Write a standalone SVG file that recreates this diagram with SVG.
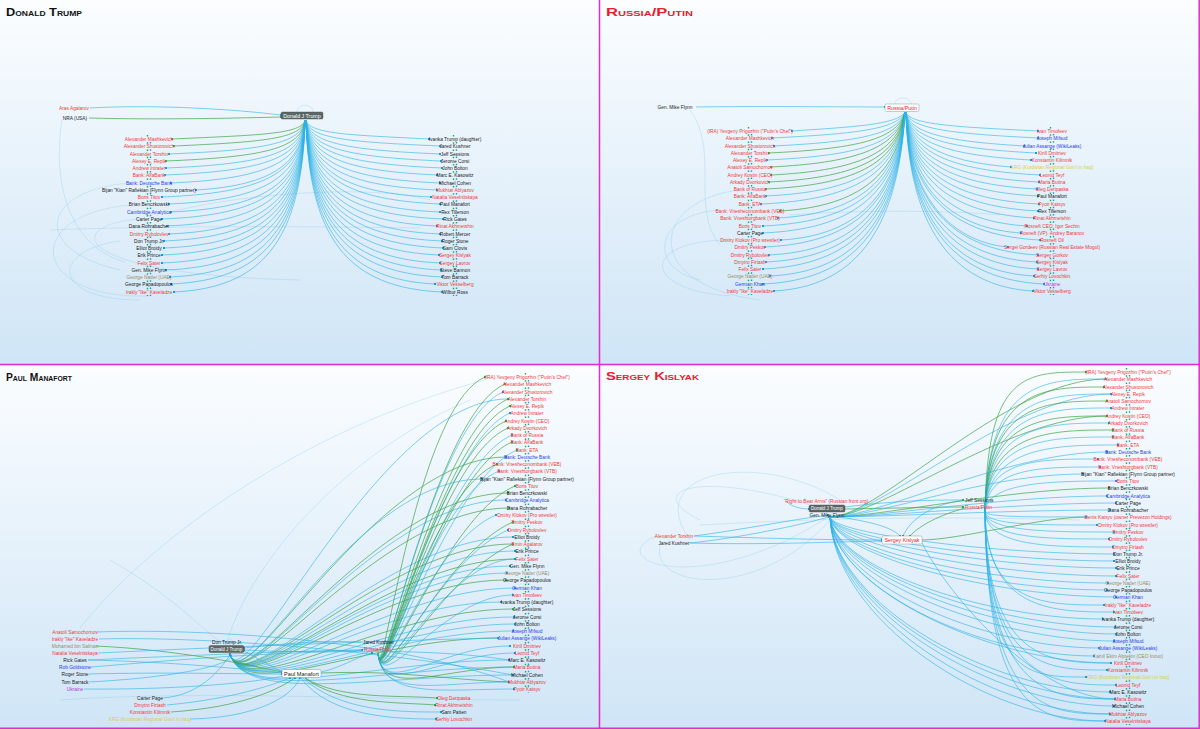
<svg xmlns="http://www.w3.org/2000/svg" width="1200" height="729" viewBox="0 0 1200 729">
<defs>
<linearGradient id="bg" x1="0" y1="0" x2="0" y2="1"><stop offset="0" stop-color="#fbfdff"/><stop offset="1" stop-color="#cfe5f6"/></linearGradient>
<marker id="dg" viewBox="0 0 2 2" refX="1" refY="1" markerWidth="2" markerHeight="2" markerUnits="userSpaceOnUse"><rect width="2" height="2" fill="#1fae4a"/></marker>
<marker id="db" viewBox="0 0 2 2" refX="1" refY="1" markerWidth="2" markerHeight="2" markerUnits="userSpaceOnUse"><rect width="2" height="2" fill="#1e96dc"/></marker>
</defs>
<style>
.t{font-family:"Liberation Sans",Arial,sans-serif;font-size:4.8px;text-anchor:middle;dominant-baseline:central}
.s{text-anchor:start}
.r{fill:#f03a3a}.k{fill:#222}.b{fill:#2c3be8}.o{fill:#9b8b68}.y{fill:#d6d23e}.p{fill:#b43bd6}
.e,.g,.f{fill:none}
.e{stroke:#2db3e6;stroke-width:.75;stroke-opacity:.8;marker-end:url(#db)}
.g{stroke:#3aa040;stroke-width:.8;stroke-opacity:.85;marker-end:url(#dg)}
.f{stroke:#7fc6e6;stroke-width:.6;stroke-opacity:.5}
.ttl{font-family:"Liberation Sans",Arial,sans-serif;font-weight:bold;font-variant:small-caps;font-size:10.5px}
.hb{fill:#5b6767;stroke:#3d4848;stroke-width:.4}
.hw{fill:#fff;stroke:#8a9a9a;stroke-width:.5}
.ht{font-family:"Liberation Sans",Arial,sans-serif;text-anchor:middle;dominant-baseline:central}
.cg{stroke:#1fae4a;stroke-width:1.4;stroke-dasharray:1.5 5.77}
.cb{stroke:#1e96dc;stroke-width:1.4;stroke-dasharray:1.5 5.77}
.frame{stroke:#e02cc8;stroke-width:1.5;fill:none}
</style>
<g id="backgrounds">
<rect x="0" y="0" width="600" height="365" fill="url(#bg)"/>
<rect x="600" y="0" width="600" height="365" fill="url(#bg)"/>
<rect x="0" y="365" width="600" height="364" fill="url(#bg)"/>
<rect x="600" y="365" width="600" height="364" fill="url(#bg)"/>
</g>
<g id="frames">
<line class="frame" x1="599.5" y1="0" x2="599.5" y2="729"/>
<line class="frame" x1="0" y1="364.5" x2="1200" y2="364.5"/>
<line class="frame" x1="1199.2" y1="0" x2="1199.2" y2="729"/>
<line class="frame" x1="0" y1="728.2" x2="1200" y2="728.2"/>
</g>
<g id="titles">
<text class="ttl" x="6" y="16" fill="#111" textLength="76" lengthAdjust="spacingAndGlyphs">Donald Trump</text>
<text class="ttl" x="606" y="16" fill="#e8202c" textLength="87" lengthAdjust="spacingAndGlyphs">Russia/Putin</text>
<text class="ttl" x="6" y="381" fill="#111" textLength="66" lengthAdjust="spacingAndGlyphs">Paul Manafort</text>
<text class="ttl" x="606" y="380" fill="#e8202c" textLength="93" lengthAdjust="spacingAndGlyphs">Sergey Kislyak</text>
</g>
<g id="connectors">
<!-- panel 1 -->
<path class="f" d="M130,205C20,215 30,300 150,296"/>
<path class="f" d="M120,241C50,250 50,300 140,300"/>
<path class="f" d="M62,120C50,200 80,250 125,262"/>
<path class="f" d="M50,230C150,226 300,226 420,228"/>
<path class="f" d="M170,212C260,190 380,186 430,200"/>
<path class="f" d="M130,183C40,190 30,250 120,270"/>
<path class="f" d="M140,219C60,225 70,275 300,280"/>
<path class="f" d="M297,112C297,103 313,103 313,112"/>
<path class="e" d="M90,108C160,104 240,110 281,115"/>
<path class="g" d="M89,118C160,120 240,118 281,117"/>
<path class="g" d="M305,120C302,134 262,135 172,139"/>
<path class="g" d="M305,120C302,139 262,142 174,146"/>
<path class="e" d="M305,120C302,144 262,150 169,154"/>
<path class="g" d="M305,120C302,149 262,157 166,161"/>
<path class="e" d="M305,120C302,154 262,164 166,168"/>
<path class="e" d="M305,120C302,159 262,171 165,175"/>
<path class="e" d="M305,120C302,164 262,179 171,183"/>
<path class="e" d="M305,120C302,169 262,186 196,190"/>
<path class="e" d="M305,120C302,174 262,193 162,197"/>
<path class="e" d="M305,120C302,179 262,200 169,204"/>
<path class="e" d="M305,120C302,185 262,208 171,212"/>
<path class="e" d="M305,120C302,190 262,215 162,219"/>
<path class="e" d="M305,120C302,195 262,222 167,226"/>
<path class="e" d="M305,120C302,200 262,230 169,234"/>
<path class="e" d="M305,120C302,205 262,237 164,241"/>
<path class="e" d="M305,120C302,210 262,244 164,248"/>
<path class="e" d="M305,120C302,215 262,251 162,255"/>
<path class="e" d="M305,120C302,220 262,259 162,263"/>
<path class="e" d="M305,120C302,225 262,266 166,270"/>
<path class="e" d="M305,120C302,230 262,273 170,277"/>
<path class="e" d="M305,120C302,235 262,280 171,284"/>
<path class="e" d="M305,120C302,241 262,288 174,292"/>
<path class="e" d="M306,120C309,134 350,135 429,139"/>
<path class="e" d="M306,120C309,139 350,142 440,146"/>
<path class="e" d="M306,120C309,144 350,150 440,154"/>
<path class="e" d="M306,120C309,149 350,157 441,161"/>
<path class="e" d="M306,120C309,154 350,164 442,168"/>
<path class="e" d="M306,120C309,159 350,171 437,175"/>
<path class="e" d="M306,120C309,164 350,179 440,183"/>
<path class="e" d="M306,120C309,169 350,186 437,190"/>
<path class="e" d="M306,120C309,174 350,193 431,197"/>
<path class="e" d="M306,120C309,179 350,200 440,204"/>
<path class="e" d="M306,120C309,185 350,208 440,212"/>
<path class="e" d="M306,120C309,190 350,215 443,219"/>
<path class="e" d="M306,120C309,195 350,222 437,226"/>
<path class="e" d="M306,120C309,200 350,230 440,234"/>
<path class="e" d="M306,120C309,205 350,237 442,241"/>
<path class="e" d="M306,120C309,210 350,244 443,248"/>
<path class="e" d="M306,120C309,215 350,251 439,255"/>
<path class="e" d="M306,120C309,220 350,259 440,263"/>
<path class="e" d="M306,120C309,225 350,266 441,270"/>
<path class="e" d="M306,120C309,230 350,273 442,277"/>
<path class="e" d="M306,120C309,235 350,280 435,284"/>
<path class="e" d="M306,120C309,241 350,288 442,292"/>
<!-- panel 2 -->
<path class="f" d="M730,240C640,240 640,290 730,296"/>
<path class="f" d="M720,210C650,215 650,270 700,280"/>
<path class="f" d="M790,215C850,210 950,210 1000,215"/>
<path class="f" d="M690,110C720,150 690,210 720,245"/>
<path class="f" d="M740,190C650,200 640,285 760,300"/>
<path class="f" d="M895,104C895,96 911,96 911,104"/>
<path class="e" d="M696,107C760,106 840,107 885,107"/>
<path class="e" d="M905,112C898,125 850,127 792,131"/>
<path class="e" d="M905,112C898,130 850,134 772,138"/>
<path class="e" d="M905,112C898,136 850,142 774,146"/>
<path class="g" d="M905,112C898,141 850,149 769,153"/>
<path class="e" d="M905,112C898,146 850,156 767,160"/>
<path class="g" d="M905,112C898,150 850,163 771,167"/>
<path class="g" d="M905,112C898,156 850,171 771,175"/>
<path class="g" d="M905,112C898,161 850,178 769,182"/>
<path class="g" d="M905,112C898,166 850,185 766,189"/>
<path class="e" d="M905,112C898,171 850,192 766,196"/>
<path class="e" d="M905,112C898,176 850,200 761,204"/>
<path class="g" d="M905,112C898,181 850,207 780,211"/>
<path class="e" d="M905,112C898,186 850,214 778,218"/>
<path class="e" d="M905,112C898,192 850,222 763,226"/>
<path class="e" d="M905,112C898,197 850,229 763,233"/>
<path class="e" d="M905,112C898,202 850,236 781,240"/>
<path class="e" d="M905,112C898,207 850,243 765,247"/>
<path class="e" d="M905,112C898,212 850,251 769,255"/>
<path class="e" d="M905,112C898,217 850,258 766,262"/>
<path class="e" d="M905,112C898,222 850,265 763,269"/>
<path class="e" d="M905,112C898,227 850,272 770,276"/>
<path class="e" d="M905,112C898,232 850,280 763,284"/>
<path class="e" d="M905,112C898,237 850,287 774,291"/>
<path class="e" d="M906,112C909,125 960,127 1038,131"/>
<path class="e" d="M906,112C909,130 960,134 1038,138"/>
<path class="e" d="M906,112C909,136 960,142 1024,146"/>
<path class="e" d="M906,112C909,141 960,149 1036,153"/>
<path class="e" d="M906,112C909,146 960,156 1031,160"/>
<path class="e" d="M906,112C909,150 960,163 1011,167"/>
<path class="e" d="M906,112C909,156 960,171 1040,175"/>
<path class="e" d="M906,112C909,161 960,178 1039,182"/>
<path class="e" d="M906,112C909,166 960,185 1037,189"/>
<path class="e" d="M906,112C909,171 960,192 1038,196"/>
<path class="e" d="M906,112C909,176 960,200 1039,204"/>
<path class="e" d="M906,112C909,181 960,207 1038,211"/>
<path class="e" d="M906,112C909,186 960,214 1034,218"/>
<path class="e" d="M906,112C909,192 960,222 1027,226"/>
<path class="e" d="M906,112C909,197 960,229 1021,233"/>
<path class="e" d="M906,112C909,202 960,236 1040,240"/>
<path class="e" d="M906,112C909,207 960,243 1008,247"/>
<path class="e" d="M906,112C909,212 960,251 1038,255"/>
<path class="e" d="M906,112C909,217 960,258 1037,262"/>
<path class="e" d="M906,112C909,222 960,265 1038,269"/>
<path class="e" d="M906,112C909,227 960,272 1034,276"/>
<path class="e" d="M906,112C909,232 960,280 1044,284"/>
<path class="e" d="M906,112C909,237 960,287 1033,291"/>
<!-- panel 3 -->
<path class="f" d="M485,380C300,430 150,540 80,628"/>
<path class="f" d="M470,400C350,450 250,560 226,645"/>
<path class="f" d="M60,700C200,690 380,700 520,700"/>
<path class="f" d="M110,560C180,600 200,630 226,645"/>
<path class="e" d="M230,654C245,705 378,399 508,399"/>
<path class="g" d="M230,654C245,705 376,457 506,457"/>
<path class="e" d="M230,654C245,705 352,479 482,479"/>
<path class="g" d="M230,654C245,705 378,493 508,493"/>
<path class="e" d="M230,654C245,705 376,500 506,500"/>
<path class="g" d="M230,654C245,705 379,508 509,508"/>
<path class="e" d="M230,654C245,705 383,537 513,537"/>
<path class="g" d="M230,654C245,705 383,544 513,544"/>
<path class="e" d="M230,654C245,705 385,551 515,551"/>
<path class="g" d="M230,654C245,705 385,559 515,559"/>
<path class="e" d="M230,654C245,705 380,566 510,566"/>
<path class="e" d="M230,654C245,705 377,573 507,573"/>
<path class="g" d="M230,654C245,705 376,580 506,580"/>
<path class="e" d="M230,654C245,705 385,588 515,588"/>
<path class="e" d="M230,654C245,705 371,602 501,602"/>
<path class="g" d="M230,654C245,705 383,609 513,609"/>
<path class="e" d="M230,654C245,705 384,617 514,617"/>
<path class="e" d="M230,654C245,705 385,624 515,624"/>
<path class="e" d="M230,654C245,705 383,631 513,631"/>
<path class="g" d="M230,654C245,705 368,638 498,638"/>
<path class="e" d="M230,654C245,705 379,660 509,660"/>
<path class="e" d="M230,654C245,705 384,667 514,667"/>
<path class="e" d="M230,654C245,705 383,675 513,675"/>
<path class="g" d="M378,653C382,700 415,407 485,377"/>
<path class="g" d="M378,653C382,700 435,414 505,384"/>
<path class="e" d="M378,653C382,700 433,422 503,392"/>
<path class="g" d="M378,653C382,700 438,429 508,399"/>
<path class="g" d="M378,653C382,700 440,436 510,406"/>
<path class="e" d="M378,653C382,700 440,443 510,413"/>
<path class="g" d="M378,653C382,700 436,451 506,421"/>
<path class="g" d="M378,653C382,700 438,458 508,428"/>
<path class="e" d="M378,653C382,700 442,465 512,435"/>
<path class="g" d="M378,653C382,700 442,472 512,442"/>
<path class="e" d="M378,653C382,700 447,480 517,450"/>
<path class="g" d="M378,653C382,700 427,494 497,464"/>
<path class="e" d="M378,653C382,700 429,501 499,471"/>
<path class="g" d="M378,653C382,700 445,516 515,486"/>
<path class="e" d="M378,653C382,700 426,545 496,515"/>
<path class="g" d="M378,653C382,700 443,552 513,522"/>
<path class="e" d="M378,653C382,700 438,560 508,530"/>
<path class="g" d="M378,653C382,700 443,574 513,544"/>
<path class="e" d="M378,653C382,700 445,559 515,559"/>
<path class="e" d="M378,653C382,700 443,595 513,595"/>
<path class="e" d="M378,653C382,700 440,646 510,646"/>
<path class="e" d="M378,653C382,700 445,653 515,653"/>
<path class="g" d="M378,653C382,700 444,667 514,667"/>
<path class="e" d="M378,653C382,700 439,682 509,682"/>
<path class="e" d="M378,653C382,700 444,689 514,689"/>
<path class="e" d="M97,632C200,628 400,640 509,682"/>
<path class="e" d="M99,639C200,636 380,650 513,675"/>
<path class="g" d="M96,646C180,650 250,665 282,672"/>
<path class="e" d="M98,653C200,648 400,640 498,638"/>
<path class="e" d="M88,660C180,662 250,670 282,673"/>
<path class="e" d="M88,660C200,655 320,650 362,650"/>
<path class="e" d="M91,667C180,660 380,640 509,660"/>
<path class="e" d="M89,674C160,672 240,674 282,674"/>
<path class="e" d="M89,682C200,676 240,660 230,654"/>
<path class="e" d="M84,689C180,690 260,682 283,676"/>
<path class="e" d="M361,642C320,640 270,645 244,648"/>
<path class="e" d="M362,650C320,652 280,652 244,650"/>
<path class="e" d="M244,651C260,660 275,668 282,672"/>
<path class="e" d="M321,672C340,668 355,658 372,653"/>
<path class="g" d="M321,673C400,670 450,680 509,682"/>
<path class="e" d="M163,698C200,695 220,670 230,655"/>
<path class="e" d="M167,705C220,700 260,690 290,678"/>
<path class="g" d="M171,712C230,708 270,695 295,678"/>
<path class="e" d="M190,719C250,718 290,700 300,678"/>
<path class="g" d="M305,678C340,700 400,695 437,698"/>
<path class="g" d="M305,678C340,705 400,702 435,705"/>
<path class="e" d="M303,678C340,712 400,712 441,712"/>
<path class="e" d="M301,678C330,718 400,719 436,719"/>
<path class="f" d="M227,644C227,637 233,637 233,644"/>
<!-- panel 4 -->
<path class="f" d="M656,536C600,560 700,600 828,517"/>
<path class="f" d="M700,520C640,490 700,470 810,505"/>
<path class="f" d="M660,545C650,590 760,600 830,520"/>
<path class="f" d="M700,525C800,520 900,515 1080,520"/>
<path class="f" d="M690,540C640,470 760,450 840,500"/>
<path class="e" d="M786,501C790,506 800,509 809,509"/>
<path class="e" d="M694,536C740,530 790,520 828,515"/>
<path class="e" d="M694,536C760,538 820,540 882,540"/>
<path class="e" d="M690,543C760,545 830,542 882,541"/>
<path class="e" d="M690,543C740,538 800,525 829,517"/>
<path class="e" d="M832,516C860,520 890,525 900,536"/>
<path class="e" d="M963,500C930,505 910,520 903,536"/>
<path class="g" d="M965,508C940,515 920,525 910,536"/>
<path class="e" d="M845,507C900,500 940,500 963,500"/>
<path class="g" d="M845,509C900,508 940,507 963,507"/>
<path class="g" d="M921,540C960,540 1040,517 1086,517"/>
<path class="e" d="M921,541C950,600 1040,699 1115,699"/>
<path class="g" d="M830,517C880,517 1006,379 1106,379"/>
<path class="e" d="M830,517C880,517 1011,394 1111,394"/>
<path class="g" d="M830,517C880,517 1007,416 1107,416"/>
<path class="e" d="M830,517C880,517 1007,452 1107,452"/>
<path class="e" d="M830,517C880,517 983,474 1083,474"/>
<path class="g" d="M830,517C880,517 1009,488 1109,488"/>
<path class="e" d="M830,517C880,517 1007,496 1107,496"/>
<path class="e" d="M830,517C880,517 1016,503 1116,503"/>
<path class="e" d="M830,517C880,517 1010,510 1110,510"/>
<path class="e" d="M830,517C834,534 994,554 1114,554"/>
<path class="e" d="M830,517C834,538 994,561 1114,561"/>
<path class="e" d="M830,517C834,541 996,568 1116,568"/>
<path class="e" d="M830,517C834,545 996,576 1116,576"/>
<path class="e" d="M830,517C834,549 988,583 1108,583"/>
<path class="e" d="M830,517C834,552 987,590 1107,590"/>
<path class="e" d="M830,517C834,556 996,597 1116,597"/>
<path class="e" d="M830,517C834,567 983,619 1103,619"/>
<path class="e" d="M830,517C834,571 995,627 1115,627"/>
<path class="e" d="M830,517C834,574 996,634 1116,634"/>
<path class="e" d="M830,517C834,578 994,641 1114,641"/>
<path class="e" d="M830,517C834,581 979,648 1099,648"/>
<path class="e" d="M830,517C834,585 974,656 1094,656"/>
<path class="e" d="M830,517C834,589 991,663 1111,663"/>
<path class="e" d="M830,517C834,603 990,692 1110,692"/>
<path class="e" d="M830,517C834,607 995,699 1115,699"/>
<path class="e" d="M830,517C834,610 994,706 1114,706"/>
<path class="e" d="M830,517C834,614 990,714 1110,714"/>
<path class="e" d="M830,517C834,618 985,721 1105,721"/>
<path class="g" d="M985,512C987,372 1026,372 1086,372"/>
<path class="e" d="M985,512C987,379 1046,379 1106,379"/>
<path class="g" d="M985,512C987,387 1044,387 1104,387"/>
<path class="e" d="M985,512C987,394 1051,394 1111,394"/>
<path class="g" d="M985,512C987,401 1047,401 1107,401"/>
<path class="e" d="M985,512C987,408 1051,408 1111,408"/>
<path class="g" d="M985,512C987,416 1047,416 1107,416"/>
<path class="e" d="M985,512C987,423 1049,423 1109,423"/>
<path class="g" d="M985,512C987,430 1053,430 1113,430"/>
<path class="e" d="M985,512C987,437 1053,437 1113,437"/>
<path class="e" d="M985,512C987,445 1058,445 1118,445"/>
<path class="e" d="M985,512C987,459 1038,459 1098,459"/>
<path class="e" d="M985,512C987,467 1040,467 1100,467"/>
<path class="e" d="M985,512C987,481 1056,481 1116,481"/>
<path class="e" d="M985,512C987,517 1026,517 1086,517"/>
<path class="e" d="M985,512C987,525 1037,525 1097,525"/>
<path class="e" d="M985,512C987,532 1054,532 1114,532"/>
<path class="e" d="M985,512C987,539 1049,539 1109,539"/>
<path class="e" d="M985,512C987,547 1053,547 1113,547"/>
<path class="e" d="M985,512C987,605 1044,605 1104,605"/>
<path class="e" d="M985,512C987,612 1054,612 1114,612"/>
<path class="e" d="M985,512C987,663 1051,663 1111,663"/>
<path class="e" d="M985,512C987,670 1047,670 1107,670"/>
<path class="e" d="M985,512C987,677 1026,677 1086,677"/>
<path class="e" d="M985,512C987,685 1056,685 1116,685"/>
<path class="e" d="M985,512C987,699 1055,699 1115,699"/>
<path class="e" d="M985,512C987,714 1050,714 1110,714"/>
<path class="e" d="M985,512C987,721 1045,721 1105,721"/>
</g>
<g id="list-dots">
<line class="cg" x1="147.5" y1="135" x2="147.5" y2="296"/><line class="cb" x1="150.5" y1="142" x2="150.5" y2="296"/>
<line class="cg" x1="453.5" y1="135" x2="453.5" y2="296"/><line class="cb" x1="456.5" y1="142" x2="456.5" y2="296"/>
<line class="cg" x1="748.5" y1="127" x2="748.5" y2="295"/><line class="cb" x1="751.5" y1="134" x2="751.5" y2="295"/>
<line class="cg" x1="1050.5" y1="127" x2="1050.5" y2="295"/><line class="cb" x1="1053.5" y1="134" x2="1053.5" y2="295"/>
<line class="cg" x1="525.5" y1="373" x2="525.5" y2="693"/><line class="cb" x1="528.5" y1="380" x2="528.5" y2="693"/>
<line class="cg" x1="1126.5" y1="368" x2="1126.5" y2="725"/><line class="cb" x1="1129.5" y1="375" x2="1129.5" y2="725"/>
</g>
<g id="p1-trump"><rect class="hb" x="281" y="112" width="42" height="7" rx="1.5"/><text class="ht" x="302" y="115.6" fill="#fff" font-size="5.3">Donald J Trump</text></g>
<g id="p1-aras"><text class="t r" x="74" y="108">Aras Agalarov</text></g>
<g id="p1-nra"><text class="t k" x="75" y="118">NRA (USA)</text></g>
<g id="p1-l01"><text class="t r" x="149" y="139">Alexander Mashkevich</text></g>
<g id="p1-l02"><text class="t r" x="149" y="146">Alexander Shustorovich</text></g>
<g id="p1-l03"><text class="t r" x="149" y="154">Alexander Torshin</text></g>
<g id="p1-l04"><text class="t r" x="149" y="161">Alexey E. Repik</text></g>
<g id="p1-l05"><text class="t r" x="149" y="168">Andrew Intrater</text></g>
<g id="p1-l06"><text class="t r" x="149" y="175">Bank: AlfaBank</text></g>
<g id="p1-l07"><text class="t b" x="149" y="183">Bank: Deutsche Bank</text></g>
<g id="p1-l08"><text class="t k" x="149" y="190">Bijan "Kian" Rafiekian (Flynn Group partner)</text></g>
<g id="p1-l09"><text class="t r" x="149" y="197">Boris Titov</text></g>
<g id="p1-l10"><text class="t k" x="149" y="204">Brian Benczkowski</text></g>
<g id="p1-l11"><text class="t b" x="149" y="212">Cambridge Analytica</text></g>
<g id="p1-l12"><text class="t k" x="149" y="219">Carter Page</text></g>
<g id="p1-l13"><text class="t k" x="149" y="226">Dana Rohrabacher</text></g>
<g id="p1-l14"><text class="t r" x="149" y="234">Dmitry Rybolovlev</text></g>
<g id="p1-l15"><text class="t k" x="149" y="241">Don Trump Jr.</text></g>
<g id="p1-l16"><text class="t k" x="149" y="248">Elliot Broidy</text></g>
<g id="p1-l17"><text class="t k" x="149" y="255">Erik Prince</text></g>
<g id="p1-l18"><text class="t r" x="149" y="263">Felix Sater</text></g>
<g id="p1-l19"><text class="t k" x="149" y="270">Gen. Mike Flynn</text></g>
<g id="p1-l20"><text class="t o" x="149" y="277">George Nader (UAE)</text></g>
<g id="p1-l21"><text class="t k" x="149" y="284">George Papadopoulos</text></g>
<g id="p1-l22"><text class="t r" x="149" y="292">Irakly "Ike" Kaveladze</text></g>
<g id="p1-r01"><text class="t k" x="455" y="139">Ivanka Trump (daughter)</text></g>
<g id="p1-r02"><text class="t k" x="455" y="146">Jared Kushner</text></g>
<g id="p1-r03"><text class="t k" x="455" y="154">Jeff Sessions</text></g>
<g id="p1-r04"><text class="t k" x="455" y="161">Jerome Corsi</text></g>
<g id="p1-r05"><text class="t k" x="455" y="168">John Bolton</text></g>
<g id="p1-r06"><text class="t k" x="455" y="175">Marc E. Kasowitz</text></g>
<g id="p1-r07"><text class="t k" x="455" y="183">Michael Cohen</text></g>
<g id="p1-r08"><text class="t r" x="455" y="190">Mukhtar Ablyazov</text></g>
<g id="p1-r09"><text class="t r" x="455" y="197">Natalia Veselnitskaya</text></g>
<g id="p1-r10"><text class="t k" x="455" y="204">Paul Manafort</text></g>
<g id="p1-r11"><text class="t k" x="455" y="212">Rex Tillerson</text></g>
<g id="p1-r12"><text class="t k" x="455" y="219">Rick Gates</text></g>
<g id="p1-r13"><text class="t r" x="455" y="226">Rinat Akhmetshin</text></g>
<g id="p1-r14"><text class="t k" x="455" y="234">Robert Mercer</text></g>
<g id="p1-r15"><text class="t k" x="455" y="241">Roger Stone</text></g>
<g id="p1-r16"><text class="t k" x="455" y="248">Sam Clovis</text></g>
<g id="p1-r17"><text class="t r" x="455" y="255">Sergey Kislyak</text></g>
<g id="p1-r18"><text class="t r" x="455" y="263">Sergey Lavrov</text></g>
<g id="p1-r19"><text class="t k" x="455" y="270">Steve Bannon</text></g>
<g id="p1-r20"><text class="t k" x="455" y="277">Tom Barrack</text></g>
<g id="p1-r21"><text class="t r" x="455" y="284">Viktor Vekselberg</text></g>
<g id="p1-r22"><text class="t k" x="455" y="292">Wilbur Ross</text></g>
<g id="p2-russia"><rect class="hw" x="885" y="104" width="34" height="7.5" rx="1.5"/><text class="ht" x="902" y="107.9" fill="#e8202c" font-size="5.3">Russia/Putin</text></g>
<g id="p2-flynn"><text class="t k" x="675" y="107">Gen. Mike Flynn</text></g>
<g id="p2-l01"><text class="t r" x="750" y="131">(IRA) Yevgeny Prigozhin ("Putin's Chef")</text></g>
<g id="p2-l02"><text class="t r" x="750" y="138">Alexander Mashkevich</text></g>
<g id="p2-l03"><text class="t r" x="750" y="146">Alexander Shustorovich</text></g>
<g id="p2-l04"><text class="t r" x="750" y="153">Alexander Torshin</text></g>
<g id="p2-l05"><text class="t r" x="750" y="160">Alexey E. Repik</text></g>
<g id="p2-l06"><text class="t r" x="750" y="167">Anatoli Samochornov</text></g>
<g id="p2-l07"><text class="t r" x="750" y="175">Andrey Kostin (CEO)</text></g>
<g id="p2-l08"><text class="t r" x="750" y="182">Arkady Dvorkovich</text></g>
<g id="p2-l09"><text class="t r" x="750" y="189">Bank of Russia</text></g>
<g id="p2-l10"><text class="t r" x="750" y="196">Bank: AlfaBank</text></g>
<g id="p2-l11"><text class="t r" x="750" y="204">Bank: ETA</text></g>
<g id="p2-l12"><text class="t r" x="750" y="211">Bank: Vnesheconombank (VEB)</text></g>
<g id="p2-l13"><text class="t r" x="750" y="218">Bank: Vneshtorgbank (VTB)</text></g>
<g id="p2-l14"><text class="t r" x="750" y="226">Boris Titov</text></g>
<g id="p2-l15"><text class="t k" x="750" y="233">Carter Page</text></g>
<g id="p2-l16"><text class="t r" x="750" y="240">Dmitry Klokov (Pro wrestler)</text></g>
<g id="p2-l17"><text class="t r" x="750" y="247">Dmitry Peskov</text></g>
<g id="p2-l18"><text class="t r" x="750" y="255">Dmitry Rybolovlev</text></g>
<g id="p2-l19"><text class="t r" x="750" y="262">Dmytro Firtash</text></g>
<g id="p2-l20"><text class="t r" x="750" y="269">Felix Sater</text></g>
<g id="p2-l21"><text class="t o" x="750" y="276">George Nader (UAE)</text></g>
<g id="p2-l22"><text class="t b" x="750" y="284">German Khan</text></g>
<g id="p2-l23"><text class="t r" x="750" y="291">Irakly "Ike" Kaveladze</text></g>
<g id="p2-r01"><text class="t r" x="1052" y="131">Ivan Timofeev</text></g>
<g id="p2-r02"><text class="t b" x="1052" y="138">Joseph Mifsud</text></g>
<g id="p2-r03"><text class="t b" x="1052" y="146">Julian Assange (WikiLeaks)</text></g>
<g id="p2-r04"><text class="t r" x="1052" y="153">Kirill Dmitriev</text></g>
<g id="p2-r05"><text class="t r" x="1052" y="160">Konstantin Kilimnik</text></g>
<g id="p2-r06"><text class="t y" x="1052" y="167">KRG (Kurdistan Regional Gov't in Iraq)</text></g>
<g id="p2-r07"><text class="t r" x="1052" y="175">Leonid Teyf</text></g>
<g id="p2-r08"><text class="t r" x="1052" y="182">Maria Butina</text></g>
<g id="p2-r09"><text class="t r" x="1052" y="189">Oleg Deripaska</text></g>
<g id="p2-r10"><text class="t k" x="1052" y="196">Paul Manafort</text></g>
<g id="p2-r11"><text class="t r" x="1052" y="204">Pyotr Katsyv</text></g>
<g id="p2-r12"><text class="t k" x="1052" y="211">Rex Tillerson</text></g>
<g id="p2-r13"><text class="t r" x="1052" y="218">Rinat Akhmetshin</text></g>
<g id="p2-r14"><text class="t r" x="1052" y="226">Rosneft CEO: Igor Sechin</text></g>
<g id="p2-r15"><text class="t r" x="1052" y="233">Rosneft (VP): Andrey Baranov</text></g>
<g id="p2-r16"><text class="t r" x="1052" y="240">Rosneft Oil</text></g>
<g id="p2-r17"><text class="t r" x="1052" y="247">Sergei Gordeev (Russian Real Estate Mogul)</text></g>
<g id="p2-r18"><text class="t r" x="1052" y="255">Sergey Gorkov</text></g>
<g id="p2-r19"><text class="t r" x="1052" y="262">Sergey Kislyak</text></g>
<g id="p2-r20"><text class="t r" x="1052" y="269">Sergey Lavrov</text></g>
<g id="p2-r21"><text class="t r" x="1052" y="276">Serhiy Lovochkin</text></g>
<g id="p2-r22"><text class="t p" x="1052" y="284">Ukraine</text></g>
<g id="p2-r23"><text class="t r" x="1052" y="291">Viktor Vekselberg</text></g>
<g id="p3-trump"><rect class="hb" x="209" y="645.5" width="35" height="7" rx="1.5"/><text class="ht" x="226.5" y="649.1" fill="#fff" font-size="4.5">Donald J Trump</text></g>
<g id="p3-manafort"><rect class="hw" x="282" y="669.5" width="39" height="8" rx="1.5"/><text class="ht" x="301.5" y="673.6" fill="#222" font-size="5.6">Paul Manafort</text></g>
<g id="p3-jr"><text class="t k" x="227" y="642">Don Trump Jr.</text></g>
<g id="p3-kushner"><text class="t k s" x="363" y="642">Jared Kushner</text></g>
<g id="p3-russia"><text class="t r s" x="364" y="649">Russia/Putin</text></g>
<g id="p3-l01"><text class="t r" x="75" y="632">Anatoli Samochornov</text></g>
<g id="p3-l02"><text class="t r" x="75" y="639">Irakly "Ike" Kaveladze</text></g>
<g id="p3-l03"><text class="t o" x="75" y="646">Mohamed bin Salman</text></g>
<g id="p3-l04"><text class="t r" x="75" y="653">Natalia Veselnitskaya</text></g>
<g id="p3-l05"><text class="t k" x="75" y="660">Rick Gates</text></g>
<g id="p3-l06"><text class="t b" x="75" y="667">Rob Goldstone</text></g>
<g id="p3-l07"><text class="t k" x="75" y="674">Roger Stone</text></g>
<g id="p3-l08"><text class="t k" x="75" y="682">Tom Barrack</text></g>
<g id="p3-l09"><text class="t p" x="75" y="689">Ukraine</text></g>
<g id="p3-m01"><text class="t k" x="150" y="698">Carter Page</text></g>
<g id="p3-m02"><text class="t r" x="150" y="705">Dmytro Firtash</text></g>
<g id="p3-m03"><text class="t r" x="150" y="712">Konstantin Kilimnik</text></g>
<g id="p3-m04"><text class="t y" x="150" y="719">KRG (Kurdistan Regional Gov't in Iraq)</text></g>
<g id="p3-b01"><text class="t r" x="454" y="698">Oleg Deripaska</text></g>
<g id="p3-b02"><text class="t r" x="454" y="705">Rinat Akhmetshin</text></g>
<g id="p3-b03"><text class="t k" x="454" y="712">Sam Patten</text></g>
<g id="p3-b04"><text class="t r" x="454" y="719">Serhiy Lovochkin</text></g>
<g id="p3-r01"><text class="t r" x="527" y="377">(IRA) Yevgeny Prigozhin ("Putin's Chef")</text></g>
<g id="p3-r02"><text class="t r" x="527" y="384">Alexander Mashkevich</text></g>
<g id="p3-r03"><text class="t r" x="527" y="392">Alexander Shustorovich</text></g>
<g id="p3-r04"><text class="t r" x="527" y="399">Alexander Torshin</text></g>
<g id="p3-r05"><text class="t r" x="527" y="406">Alexey E. Repik</text></g>
<g id="p3-r06"><text class="t r" x="527" y="413">Andrew Intrater</text></g>
<g id="p3-r07"><text class="t r" x="527" y="421">Andrey Kostin (CEO)</text></g>
<g id="p3-r08"><text class="t r" x="527" y="428">Arkady Dvorkovich</text></g>
<g id="p3-r09"><text class="t r" x="527" y="435">Bank of Russia</text></g>
<g id="p3-r10"><text class="t r" x="527" y="442">Bank: AlfaBank</text></g>
<g id="p3-r11"><text class="t r" x="527" y="450">Bank: ETA</text></g>
<g id="p3-r12"><text class="t b" x="527" y="457">Bank: Deutsche Bank</text></g>
<g id="p3-r13"><text class="t r" x="527" y="464">Bank: Vnesheconombank (VEB)</text></g>
<g id="p3-r14"><text class="t r" x="527" y="471">Bank: Vneshtorgbank (VTB)</text></g>
<g id="p3-r15"><text class="t k" x="527" y="479">Bijan "Kian" Rafiekian (Flynn Group partner)</text></g>
<g id="p3-r16"><text class="t r" x="527" y="486">Boris Titov</text></g>
<g id="p3-r17"><text class="t k" x="527" y="493">Brian Benczkowski</text></g>
<g id="p3-r18"><text class="t b" x="527" y="500">Cambridge Analytica</text></g>
<g id="p3-r19"><text class="t k" x="527" y="508">Dana Rohrabacher</text></g>
<g id="p3-r20"><text class="t r" x="527" y="515">Dmitry Klokov (Pro wrestler)</text></g>
<g id="p3-r21"><text class="t r" x="527" y="522">Dmitry Peskov</text></g>
<g id="p3-r22"><text class="t r" x="527" y="530">Dmitry Rybolovlev</text></g>
<g id="p3-r23"><text class="t k" x="527" y="537">Elliot Broidy</text></g>
<g id="p3-r24"><text class="t r" x="527" y="544">Emin Agalarov</text></g>
<g id="p3-r25"><text class="t k" x="527" y="551">Erik Prince</text></g>
<g id="p3-r26"><text class="t r" x="527" y="559">Felix Sater</text></g>
<g id="p3-r27"><text class="t k" x="527" y="566">Gen. Mike Flynn</text></g>
<g id="p3-r28"><text class="t o" x="527" y="573">George Nader (UAE)</text></g>
<g id="p3-r29"><text class="t k" x="527" y="580">George Papadopoulos</text></g>
<g id="p3-r30"><text class="t b" x="527" y="588">German Khan</text></g>
<g id="p3-r31"><text class="t r" x="527" y="595">Ivan Timofeev</text></g>
<g id="p3-r32"><text class="t k" x="527" y="602">Ivanka Trump (daughter)</text></g>
<g id="p3-r33"><text class="t k" x="527" y="609">Jeff Sessions</text></g>
<g id="p3-r34"><text class="t k" x="527" y="617">Jerome Corsi</text></g>
<g id="p3-r35"><text class="t k" x="527" y="624">John Bolton</text></g>
<g id="p3-r36"><text class="t b" x="527" y="631">Joseph Mifsud</text></g>
<g id="p3-r37"><text class="t b" x="527" y="638">Julian Assange (WikiLeaks)</text></g>
<g id="p3-r38"><text class="t r" x="527" y="646">Kirill Dmitriev</text></g>
<g id="p3-r39"><text class="t r" x="527" y="653">Leonid Teyf</text></g>
<g id="p3-r40"><text class="t k" x="527" y="660">Marc E. Kasowitz</text></g>
<g id="p3-r41"><text class="t r" x="527" y="667">Maria Butina</text></g>
<g id="p3-r42"><text class="t k" x="527" y="675">Michael Cohen</text></g>
<g id="p3-r43"><text class="t r" x="527" y="682">Mukhtar Ablyazov</text></g>
<g id="p3-r44"><text class="t r" x="527" y="689">Pyotr Katsyv</text></g>
<g id="p4-trump"><rect class="hb" x="809" y="505" width="36" height="7" rx="1.5"/><text class="ht" x="827" y="508.6" fill="#fff" font-size="4.5">Donald J Trump</text></g>
<g id="p4-kislyak"><rect class="hw" x="882" y="536" width="40" height="8" rx="1.5"/><text class="ht" x="902" y="540.1" fill="#e8202c" font-size="5.3">Sergey Kislyak</text></g>
<g id="p4-rtba"><text class="t r" x="826" y="501">“Right to Bear Arms” (Russian front org)</text></g>
<g id="p4-flynn"><text class="t k" x="827" y="515">Gen. Mike Flynn</text></g>
<g id="p4-torshin"><text class="t r" x="674" y="536">Alexander Torshin</text></g>
<g id="p4-kushner"><text class="t k" x="674" y="543">Jared Kushner</text></g>
<g id="p4-sessions"><text class="t k s" x="965" y="500">Jeff Sessions</text></g>
<g id="p4-russia"><text class="t r s" x="965" y="507">Russia/Putin</text></g>
<g id="p4-r01"><text class="t r" x="1128" y="372">(IRA) Yevgeny Prigozhin ("Putin's Chef")</text></g>
<g id="p4-r02"><text class="t r" x="1128" y="379">Alexander Mashkevich</text></g>
<g id="p4-r03"><text class="t r" x="1128" y="387">Alexander Shustorovich</text></g>
<g id="p4-r04"><text class="t r" x="1128" y="394">Alexey E. Repik</text></g>
<g id="p4-r05"><text class="t r" x="1128" y="401">Anatoli Samochornov</text></g>
<g id="p4-r06"><text class="t r" x="1128" y="408">Andrew Intrater</text></g>
<g id="p4-r07"><text class="t r" x="1128" y="416">Andrey Kostin (CEO)</text></g>
<g id="p4-r08"><text class="t r" x="1128" y="423">Arkady Dvorkovich</text></g>
<g id="p4-r09"><text class="t r" x="1128" y="430">Bank of Russia</text></g>
<g id="p4-r10"><text class="t r" x="1128" y="437">Bank: AlfaBank</text></g>
<g id="p4-r11"><text class="t r" x="1128" y="445">Bank: ETA</text></g>
<g id="p4-r12"><text class="t b" x="1128" y="452">Bank: Deutsche Bank</text></g>
<g id="p4-r13"><text class="t r" x="1128" y="459">Bank: Vnesheconombank (VEB)</text></g>
<g id="p4-r14"><text class="t r" x="1128" y="467">Bank: Vneshtorgbank (VTB)</text></g>
<g id="p4-r15"><text class="t k" x="1128" y="474">Bijan "Kian" Rafiekian (Flynn Group partner)</text></g>
<g id="p4-r16"><text class="t r" x="1128" y="481">Boris Titov</text></g>
<g id="p4-r17"><text class="t k" x="1128" y="488">Brian Benczkowski</text></g>
<g id="p4-r18"><text class="t b" x="1128" y="496">Cambridge Analytica</text></g>
<g id="p4-r19"><text class="t k" x="1128" y="503">Carter Page</text></g>
<g id="p4-r20"><text class="t k" x="1128" y="510">Dana Rohrabacher</text></g>
<g id="p4-r21"><text class="t r" x="1128" y="517">Denis Katsyv (owner Prevezon Holdings)</text></g>
<g id="p4-r22"><text class="t r" x="1128" y="525">Dmitry Klokov (Pro wrestler)</text></g>
<g id="p4-r23"><text class="t r" x="1128" y="532">Dmitry Peskov</text></g>
<g id="p4-r24"><text class="t r" x="1128" y="539">Dmitry Rybolovlev</text></g>
<g id="p4-r25"><text class="t r" x="1128" y="547">Dmytro Firtash</text></g>
<g id="p4-r26"><text class="t k" x="1128" y="554">Don Trump Jr.</text></g>
<g id="p4-r27"><text class="t k" x="1128" y="561">Elliot Broidy</text></g>
<g id="p4-r28"><text class="t k" x="1128" y="568">Erik Prince</text></g>
<g id="p4-r29"><text class="t r" x="1128" y="576">Felix Sater</text></g>
<g id="p4-r30"><text class="t o" x="1128" y="583">George Nader (UAE)</text></g>
<g id="p4-r31"><text class="t k" x="1128" y="590">George Papadopoulos</text></g>
<g id="p4-r32"><text class="t b" x="1128" y="597">German Khan</text></g>
<g id="p4-r33"><text class="t r" x="1128" y="605">Irakly "Ike" Kaveladze</text></g>
<g id="p4-r34"><text class="t r" x="1128" y="612">Ivan Timofeev</text></g>
<g id="p4-r35"><text class="t k" x="1128" y="619">Ivanka Trump (daughter)</text></g>
<g id="p4-r36"><text class="t k" x="1128" y="627">Jerome Corsi</text></g>
<g id="p4-r37"><text class="t k" x="1128" y="634">John Bolton</text></g>
<g id="p4-r38"><text class="t b" x="1128" y="641">Joseph Mifsud</text></g>
<g id="p4-r39"><text class="t b" x="1128" y="648">Julian Assange (WikiLeaks)</text></g>
<g id="p4-r40"><text class="t o" x="1128" y="656">Kamil Ekim Alptekin (CEO Inovo)</text></g>
<g id="p4-r41"><text class="t r" x="1128" y="663">Kirill Dmitriev</text></g>
<g id="p4-r42"><text class="t r" x="1128" y="670">Konstantin Kilimnik</text></g>
<g id="p4-r43"><text class="t y" x="1128" y="677">KRG (Kurdistan Regional Gov't in Iraq)</text></g>
<g id="p4-r44"><text class="t r" x="1128" y="685">Leonid Teyf</text></g>
<g id="p4-r45"><text class="t k" x="1128" y="692">Marc E. Kasowitz</text></g>
<g id="p4-r46"><text class="t r" x="1128" y="699">Maria Butina</text></g>
<g id="p4-r47"><text class="t k" x="1128" y="706">Michael Cohen</text></g>
<g id="p4-r48"><text class="t r" x="1128" y="714">Mukhtar Ablyazov</text></g>
<g id="p4-r49"><text class="t r" x="1128" y="721">Natalia Veselnitskaya</text></g>
</svg>
